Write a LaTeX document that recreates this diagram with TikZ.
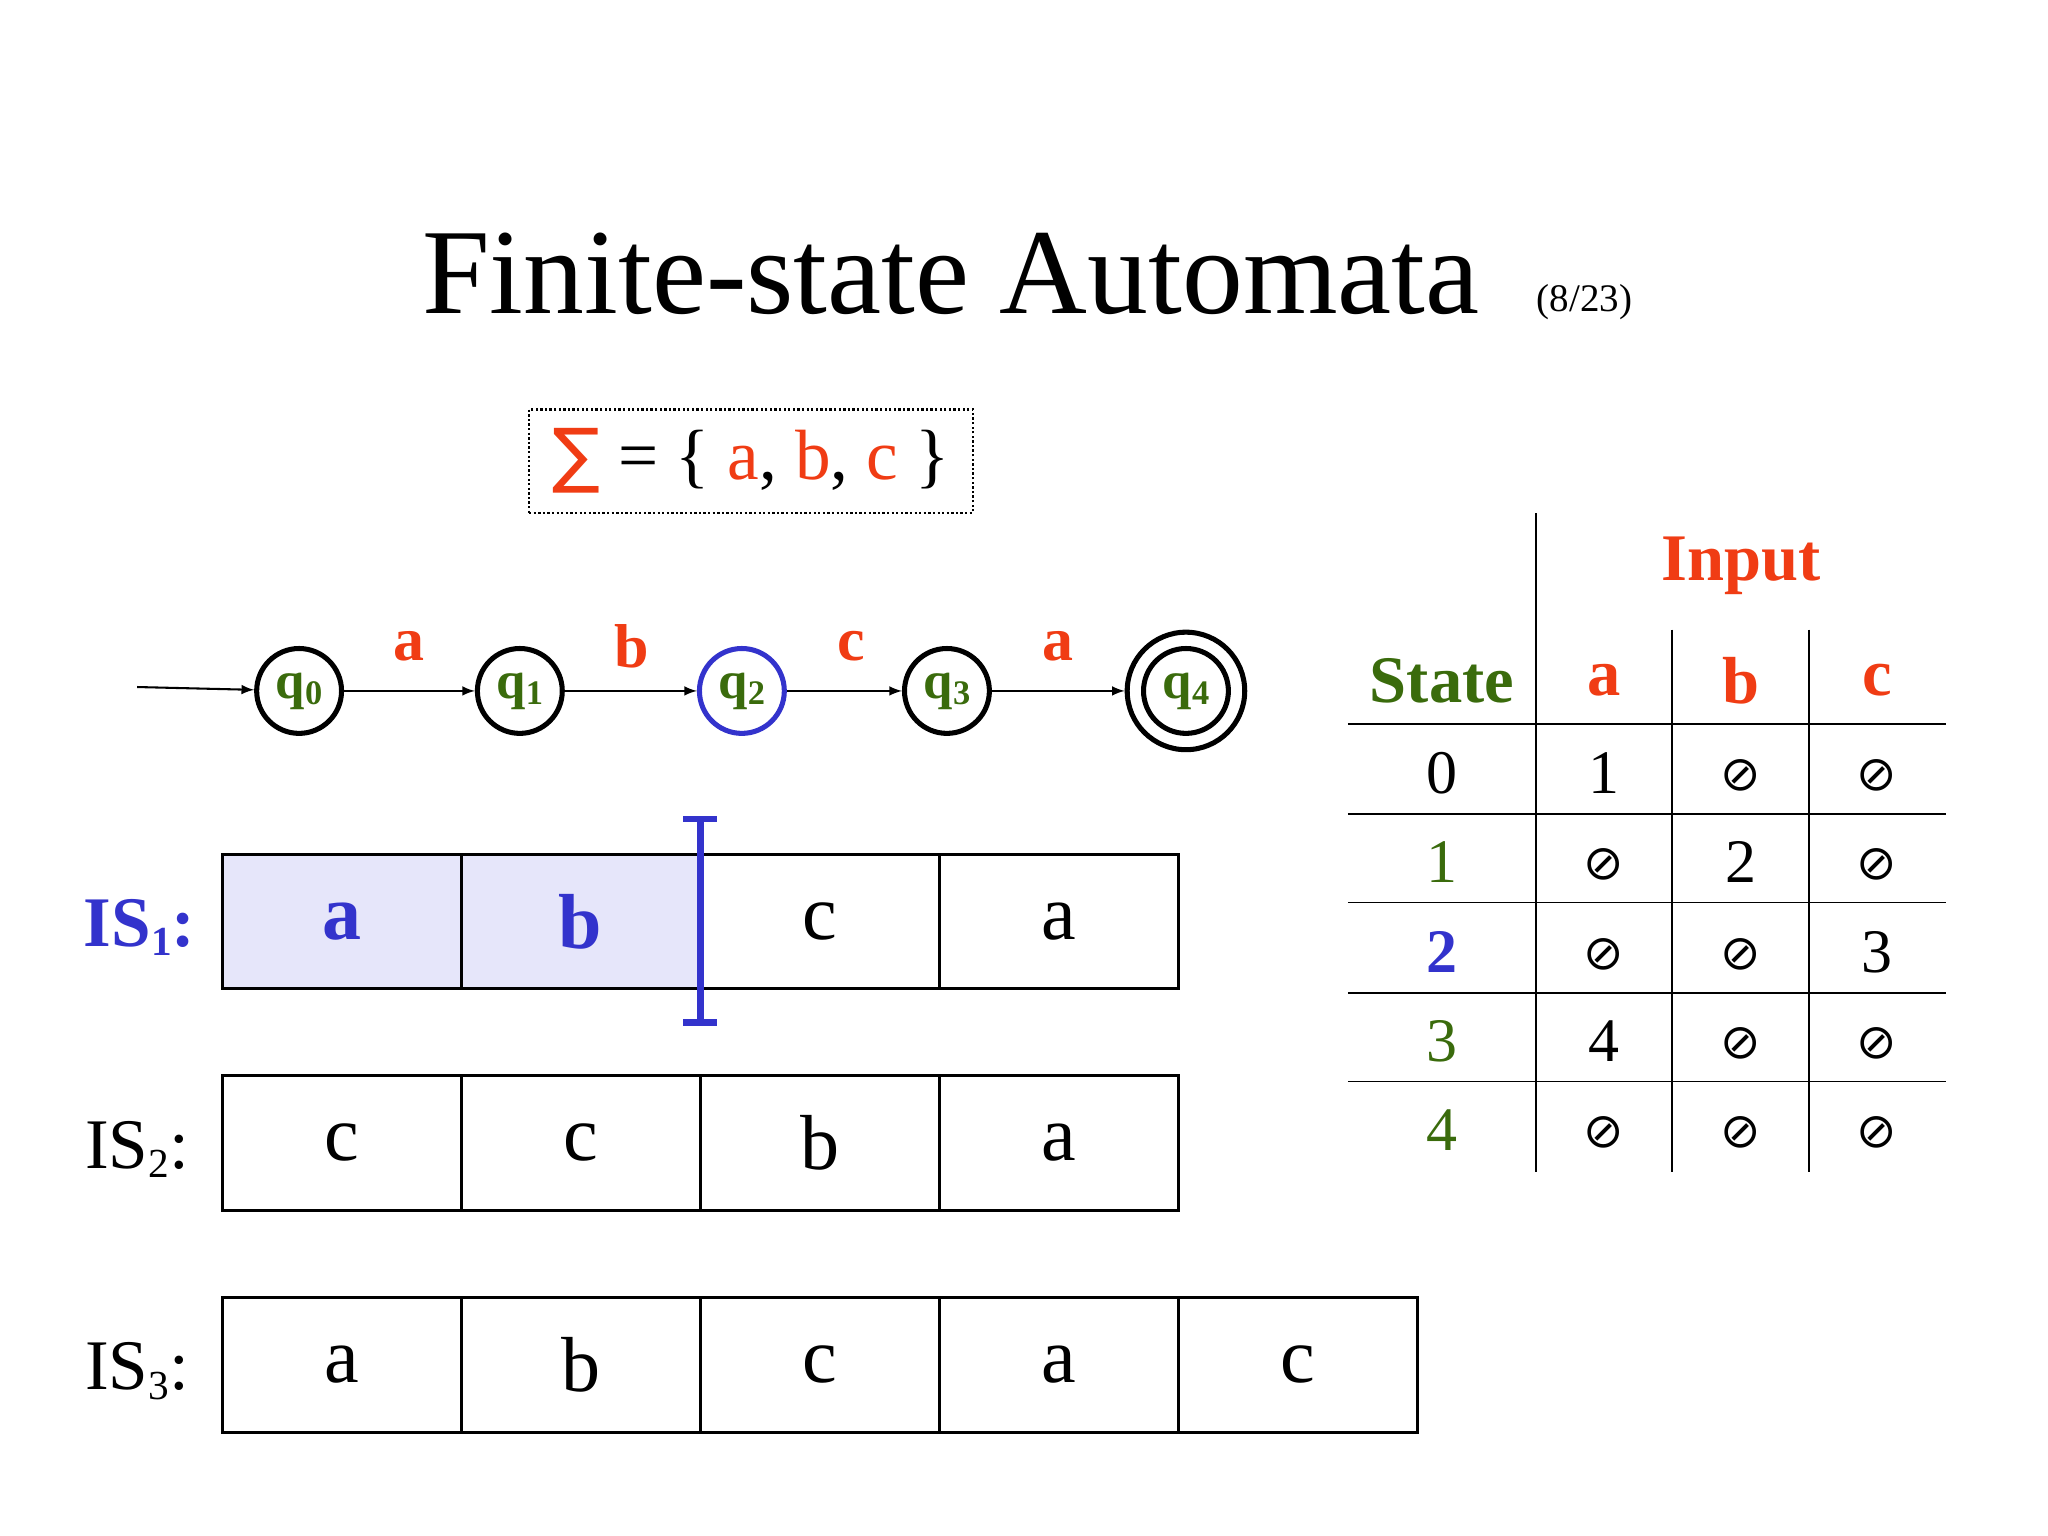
\documentclass[tikz,border=0pt]{standalone}
\usepackage{fontspec}
\setmainfont{Liberation Serif}
\newfontfamily\djsym{DejaVu Sans}
\definecolor{rd}{HTML}{F03C14}
\definecolor{gr}{HTML}{3A6B0C}
\definecolor{bl}{HTML}{3333CC}
\definecolor{lav}{HTML}{E6E6FA}
\newcommand{\sbx}[1]{\raisebox{-0.25ex}{\fontsize{15}{15}\selectfont #1}}
\tikzset{x=0.02cm,y=-0.02cm,
 st/.style={circle,draw,line width=2.2pt,minimum size=1.3cm,inner sep=0pt,font=\fontsize{23}{23}\selectfont\bfseries,text=gr},
 lab/.style={font=\fontsize{27}{27}\selectfont\bfseries,text=rd},
 cell/.style={draw,line width=1.3pt,minimum width=3.66cm,minimum height=2.06cm,inner sep=0pt,font=\fontsize{34}{34}\selectfont},
 tr/.style={-latex,line width=0.9pt},
 tv/.style={font=\fontsize{27}{27}\selectfont},
 es/.style={font=\djsym\fontsize{21}{21}\selectfont},
 hd/.style={font=\fontsize{29}{29}\selectfont\bfseries}}
\begin{document}
\begin{tikzpicture}
\useasboundingbox (0,0) rectangle (1568,1176);
\node[font=\fontsize{53}{53}\selectfont] (title) at (728,210) {Finite-state Automata};
\node[font=\fontsize{17}{17}\selectfont] (pg) at (1213,231) {(8/23)};
\node[draw,densely dotted,line width=1pt,minimum width=6.8cm,minimum height=1.58cm,font=\fontsize{31}{31}\selectfont] (sig) at (575,353) {\textcolor{rd}{\djsym ∑} = \{ \textcolor{rd}{a}, \textcolor{rd}{b}, \textcolor{rd}{c} \}};
% automaton
\node[st] (q0) at (229,529) {q\sbx{0}};
\node[st] (q1) at (398,529) {q\sbx{1}};
\node[st,draw=bl] (q2) at (568,529) {q\sbx{2}};
\node[st] (q3) at (725,529) {q\sbx{3}};
\node[st,minimum size=1.8cm] (q4) at (908,529) {};
\node[st] (q4i) at (908,529) {q\sbx{4}};
\coordinate (init) at (105,526);
\draw[tr] (init) -- (q0);
\draw[tr] (q0) -- (q1);
\draw[tr] (q1) -- (q2);
\draw[tr] (q2) -- (q3);
\draw[tr] (q3) -- (q4);
\node[lab] (la) at (313,495) {a};
\node[lab] (lb) at (484,495) {b};
\node[lab] (lc) at (652,495) {c};
\node[lab] (ld) at (810,495) {a};
% tapes
\foreach \t/\c in {1/a,2/b}{\node[cell,fill=lav,text=bl,font=\fontsize{34}{34}\selectfont\bfseries] (a\t) at (170+183*\t-91.5,705.5) {\c};}
\node[cell] (a3) at (627.5,705.5) {c};
\node[cell] (a4) at (810.5,705.5) {a};
\foreach \c [count=\i] in {c,c,b,a}{\node[cell] (b\i) at (170+183*\i-91.5,875) {\c};}
\foreach \c [count=\i] in {a,b,c,a,c}{\node[cell] (c\i) at (170+183*\i-91.5,1045) {\c};}
\node[font=\fontsize{31}{31}\selectfont\bfseries,text=bl] (is1) at (107,710) {IS\raisebox{-0.3ex}{\fontsize{18}{18}\selectfont 1}:};
\node[font=\fontsize{31}{31}\selectfont] (is2) at (105,880) {IS\raisebox{-0.3ex}{\fontsize{18}{18}\selectfont 2}:};
\node[font=\fontsize{31}{31}\selectfont] (is3) at (105,1050) {IS\raisebox{-0.3ex}{\fontsize{18}{18}\selectfont 3}:};
\coordinate (m1) at (536,627); \coordinate (m2) at (536,783);
\draw[bl,line width=3pt] (m1) -- (m2);
\draw[bl,line width=3pt] ([xshift=-0.26cm]m1) -- ([xshift=0.26cm]m1);
\draw[bl,line width=3pt] ([xshift=-0.26cm]m2) -- ([xshift=0.26cm]m2);
% table
\draw[line width=0.8pt] (1176,393) -- (1176,897);
\draw[line width=0.8pt] (1280,482) -- (1280,897);
\draw[line width=0.8pt] (1385,482) -- (1385,897);
\foreach \y in {554,623,691,760,828}{\draw[line width=0.8pt] (1032,\y) -- (1490,\y);}
\node[hd,text=rd] (inp) at (1333,433) {Input};
\node[hd,text=gr] (sth) at (1104,521) {State};
\node[hd,text=rd] (ha) at (1228,521) {a};
\node[hd,text=rd] (hb) at (1333,521) {b};
\node[hd,text=rd] (hc) at (1437,521) {c};
\node[tv] (s0) at (1104,592) {0};
\node[tv,text=gr] (s1) at (1104,660) {1};
\node[tv,text=bl,font=\fontsize{27}{27}\selectfont\bfseries] (s2) at (1104,729) {2};
\node[tv,text=gr] (s3) at (1104,797) {3};
\node[tv,text=gr] (s4) at (1104,865) {4};
\node[tv] at (1228,592) {1}; \node[es] at (1333,594) {⊘}; \node[es] at (1437,594) {⊘};
\node[es] at (1228,662) {⊘}; \node[tv] at (1333,660) {2}; \node[es] at (1437,662) {⊘};
\node[es] at (1228,731) {⊘}; \node[es] at (1333,731) {⊘}; \node[tv] at (1437,729) {3};
\node[tv] at (1228,797) {4}; \node[es] at (1333,799) {⊘}; \node[es] at (1437,799) {⊘};
\node[es] at (1228,867) {⊘}; \node[es] at (1333,867) {⊘}; \node[es] at (1437,867) {⊘};
\end{tikzpicture}
\end{document}
